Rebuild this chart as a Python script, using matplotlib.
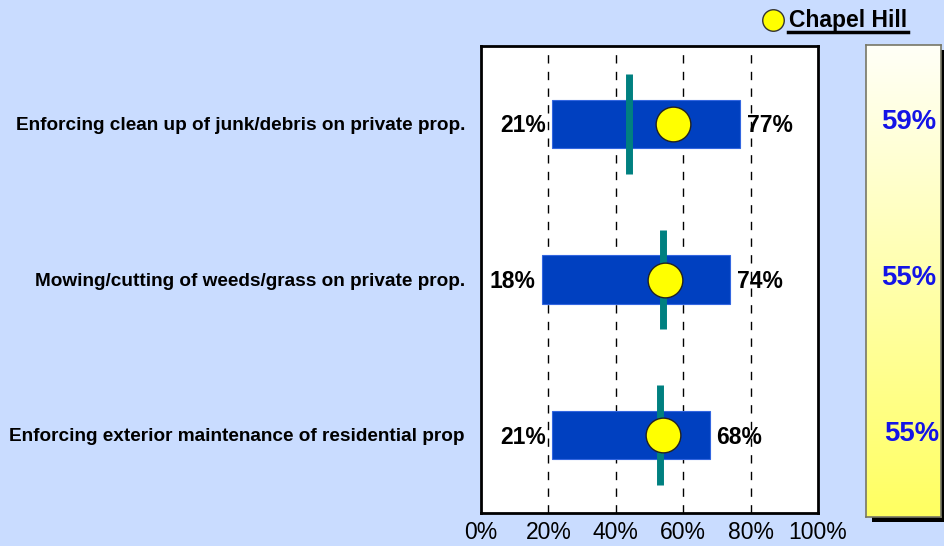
import numpy as np
import matplotlib
matplotlib.use("Agg")
import matplotlib.pyplot as plt
from matplotlib import font_manager as fm
from matplotlib.transforms import blended_transform_factory
from matplotlib.patches import Rectangle
from matplotlib.lines import Line2D

def find_font(bold):
    for f in fm.fontManager.ttflist:
        fn = f.fname.lower()
        if f.name == "Liberation Sans" and "narrow" not in fn and "italic" not in fn \
                and f.style == "normal" and ((f.weight in (700, "bold")) == bold):
            return f.fname
    return None

bold_path = find_font(True)
reg_path = find_font(False)

def fp(size, bold=True):
    path = bold_path if bold else reg_path
    if path:
        return fm.FontProperties(fname=path, size=size)
    return fm.FontProperties(family="Liberation Sans", weight="bold" if bold else "normal", size=size)

categories = ["Enforcing clean up of junk/debris on private prop.",
              "Mowing/cutting of weeds/grass on private prop.",
              "Enforcing exterior maintenance of residential prop"]
low = [21, 18, 21]
high = [77, 74, 68]
benchmark = [44, 54, 53]
chapel_hill = [57, 54.5, 54]
panel_values = ["59%", "55%", "55%"]
xticks = [0, 20, 40, 60, 80, 100]
xtick_labels = ["0%", "20%", "40%", "60%", "80%", "100%"]

W, H = 945, 546
BG = "#C9DCFF"
fig = plt.figure(figsize=(W / 100, H / 100), dpi=100, facecolor=BG)

def fx(px):
    return px / W

def fy(py):
    return 1 - py / H

ax = fig.add_axes([fx(481), fy(513), fx(818) - fx(481), fy(46) - fy(513)])
ax.set_facecolor("white")
ax.set_xlim(0, 100)
ax.set_ylim(2.5, -0.5)
for s in ax.spines.values():
    s.set_linewidth(2)
    s.set_color("black")

for g in xticks[1:-1]:
    ax.axvline(g, color="black", lw=1, ls=(0, (6, 6)), zorder=1)

y = np.arange(len(categories))
ax.barh(y, np.array(high) - np.array(low), left=low, height=0.31,
        color="#0040C0", edgecolor="#3366E0", lw=0.8, zorder=2)
for yi, b in zip(y, benchmark):
    ax.plot([b, b], [yi - 0.32, yi + 0.32], color="#008080", lw=5,
            solid_capstyle="butt", zorder=3)
ax.plot(chapel_hill, y, "o", ms=25, mfc="#FFFF00", mec="#222222", mew=1, zorder=4)

for yi, lo, hi in zip(y, low, high):
    ax.annotate(f"{lo}%", (lo, yi), xytext=(-4.5, -1.5), textcoords="offset points",
                ha="right", va="center", fontproperties=fp(16.5))
    ax.annotate(f"{hi}%", (hi, yi), xytext=(4.5, -1.5), textcoords="offset points",
                ha="left", va="center", fontproperties=fp(16.5))

ax.set_xticks(xticks)
ax.set_xticklabels(xtick_labels)
for t in ax.get_xticklabels():
    t.set_fontproperties(fp(16.5, bold=False))
ax.tick_params(axis="x", length=0, pad=6)
ax.set_yticks([])

# category labels
tr = blended_transform_factory(fig.transFigure, ax.transData)
for yi, c in zip(y, categories):
    ax.text(fx(465), yi + 0.01, c, transform=tr, ha="right", va="center",
            fontproperties=fp(13.7), clip_on=False)

# right panel with shadow and gradient
pl, pr, pt, pb = 866.5, 941.5, 45, 516.7
shadow = Rectangle((fx(pl + 5), fy(pb + 5)), fx(pr - pl), fy(pt) - fy(pb),
                   transform=fig.transFigure, facecolor="black", edgecolor="none",
                   zorder=-1)
fig.add_artist(shadow)
pax = fig.add_axes([fx(pl), fy(pb), fx(pr - pl), fy(pt) - fy(pb)])
pax.set_zorder(2)
grad = np.linspace(0, 1, 256)[:, None]
top = np.array([1.0, 1.0, 0.97])
bot = np.array([1.0, 1.0, 0.38])
img = top[None, None, :] * (1 - grad[:, :, None]) + bot[None, None, :] * grad[:, :, None]
pax.imshow(img, aspect="auto", extent=[0, 1, 1, 0])
pax.set_xticks([])
pax.set_yticks([])
for s in pax.spines.values():
    s.set_color("#777766")
    s.set_linewidth(1.2)

panel_x = [909, 909, 912]
for yi, v, px in zip(y, panel_values, panel_x):
    pax.text(fx(px), yi - 0.01, v, transform=tr, ha="center", va="center",
             fontproperties=fp(19.8), color="#1414E6", clip_on=False, zorder=5)

# legend
fig.add_artist(Line2D([fx(773)], [fy(20)], marker="o", ms=15.5, mfc="#FFFF00",
                      mec="#333333", mew=1, transform=fig.transFigure))
fig.text(fx(789), fy(20), "Chapel Hill", ha="left", va="center",
         fontproperties=fp(16.5))
fig.add_artist(Line2D([fx(788), fx(908)], [fy(32), fy(32)], color="black", lw=2.5,
                      transform=fig.transFigure))

fig.savefig("out.png", dpi=100, facecolor=BG)
